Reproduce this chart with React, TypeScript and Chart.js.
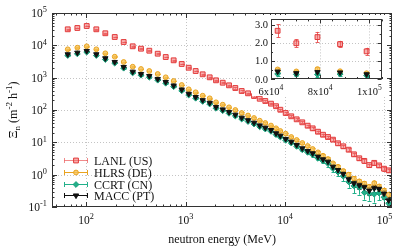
import React, { useEffect, useRef } from "react";
import { Chart, registerables } from "chart.js";
Chart.register(...registerables);

const FONT = '"Liberation Serif", "Times New Roman", serif';

// neutron energy (MeV)
const energy = [65.5, 81.8, 101.6, 126.9, 156.3, 194.3, 239, 294.5, 357, 432.5, 525.5, 632.5, 760, 916, 1077, 1265, 1488, 1750, 2026, 2366, 2737, 3167, 3670, 4250, 4880, 5570, 6340, 7230, 8125, 8975, 10160, 11560, 13100, 14920, 16900, 18970, 21460, 24100, 27040, 30340, 34100, 38550, 43650, 49330, 55800, 62700, 70300, 78900, 88100, 98900, 110200];

const lanl = [31300, 34400, 39600, 31300, 23600, 18100, 12680, 9330, 7870, 6820, 5510, 4350, 3440, 2650, 2030, 1607, 1270, 1025, 828, 698, 580, 479, 387, 328, 271, 223, 190, 157, 131, 102, 80.7, 63.8, 51.5, 41.6, 32.7, 27.1, 21.3, 17.2, 14.6, 12.1, 9.33, 7.54, 5.92, 4.26, 3.21, 2.67, 1.98, 2.32, 1.93, 1.53, 1.36];
const hlrs = [7540, 8450, 9330, 7540, 5670, 4450, 3050, 2180, 1853, 1607, 1298, 1026, 788, 593, 436, 353, 277, 230, 173, 146, 121, 100, 80.7, 67.6, 56.5, 46.7, 39.6, 33.1, 27.2, 22.4, 18.5, 14.6, 11.8, 9.53, 7.69, 6.21, 4.91, 3.85, 3.05, 2.24, 1.76, 1.3, 1.0, 0.75, 0.62, 0.53, 0.42, 0.55, 0.43, 0.32, 0.24];
const ccrt = [4850, 5450, 6150, 4850, 3650, 2800, 1960, 1400, 1190, 1030, 835, 672, 525, 394, 290, 231, 184, 153, 113, 95, 79, 65, 52.5, 44, 36.8, 30.3, 25.8, 21.9, 17.3, 14.6, 11.5, 9.5, 7.5, 5.9, 4.9, 4.1, 3.2, 2.65, 2.2, 1.55, 1.2, 0.9, 0.6, 0.45, 0.4, 0.28, 0.26, 0.25, 0.27, 0.2, 0.13];
const macc = [5280, 5920, 6680, 5280, 3970, 3050, 2138, 1528, 1298, 1125, 910, 734, 572, 430, 317, 252, 201, 167, 124, 104, 86.7, 71.5, 57.8, 48.3, 40.4, 33.3, 28.3, 24.0, 19.0, 16.0, 12.7, 10.45, 8.26, 6.53, 5.39, 4.57, 3.59, 2.98, 2.52, 1.76, 1.39, 1.05, 0.72, 0.54, 0.47, 0.41, 0.32, 0.38, 0.36, 0.26, 0.16];

// relative uncertainties
const lanlErr = [0.02, 0.02, 0.02, 0.02, 0.02, 0.02, 0.02, 0.02, 0.02, 0.02, 0.02, 0.02, 0.02, 0.02, 0.03, 0.03, 0.03, 0.03, 0.03, 0.03, 0.04, 0.04, 0.04, 0.04, 0.05, 0.05, 0.05, 0.05, 0.06, 0.06, 0.06, 0.06, 0.07, 0.07, 0.07, 0.08, 0.08, 0.08, 0.09, 0.09, 0.1, 0.1, 0.11, 0.12, 0.12, 0.135, 0.11, 0.125, 0.095, 0.13, 0.14];
const hlrsErr = [0.02, 0.02, 0.02, 0.02, 0.02, 0.02, 0.02, 0.02, 0.02, 0.02, 0.02, 0.02, 0.02, 0.02, 0.03, 0.03, 0.03, 0.03, 0.03, 0.03, 0.04, 0.04, 0.04, 0.04, 0.05, 0.05, 0.05, 0.05, 0.06, 0.06, 0.07, 0.07, 0.08, 0.08, 0.09, 0.1, 0.1, 0.11, 0.12, 0.13, 0.14, 0.15, 0.17, 0.18, 0.2, 0.2, 0.22, 0.2, 0.22, 0.25, 0.25];
const ccrtErr = [0.02, 0.02, 0.02, 0.02, 0.02, 0.02, 0.02, 0.02, 0.02, 0.02, 0.02, 0.02, 0.02, 0.02, 0.03, 0.03, 0.03, 0.03, 0.03, 0.03, 0.04, 0.04, 0.04, 0.04, 0.05, 0.05, 0.05, 0.05, 0.06, 0.06, 0.07, 0.08, 0.09, 0.1, 0.11, 0.12, 0.14, 0.16, 0.2, 0.22, 0.25, 0.3, 0.35, 0.4, 0.4, 0.4, 0.4, 0.45, 0.4, 0.45, 0.5];
const maccErr = [0.02, 0.02, 0.02, 0.02, 0.02, 0.02, 0.02, 0.02, 0.02, 0.02, 0.02, 0.02, 0.02, 0.02, 0.03, 0.03, 0.03, 0.03, 0.03, 0.03, 0.04, 0.04, 0.04, 0.04, 0.05, 0.05, 0.05, 0.05, 0.06, 0.06, 0.07, 0.07, 0.08, 0.09, 0.1, 0.11, 0.12, 0.13, 0.15, 0.17, 0.18, 0.2, 0.22, 0.25, 0.25, 0.25, 0.28, 0.25, 0.28, 0.3, 0.3];

const seriesNames = ["LANL (US)", "HLRS (DE)", "CCRT (CN)", "MACC (PT)"];
const xDecades = [2, 3, 4, 5];
const yDecades = [-1, 0, 1, 2, 3, 4, 5];
const insetXTicks = [60000, 80000, 100000];
const insetXLabels = [["6x10", "4"], ["8x10", "4"], ["1x10", "5"]];
const insetYTicks = [0, 1, 2, 3];
const insetYLabels = ["0.0", "1.0", "2.0", "3.0"];

const styles = [
  { shape: "rect", r: 3.4, rot: 0, fill: "rgba(240,110,110,0.55)", stroke: "#e23a3a", err: "rgba(232,70,70,0.85)", leg: "rgba(236,100,100,0.75)" },
  { shape: "circle", r: 2.4, rot: 0, fill: "rgba(245,192,85,0.8)", stroke: "#e9a31f", err: "#e9a31f", leg: "#e9a31f" },
  { shape: "rectRot", r: 2.9, rot: 0, fill: "#22b08a", stroke: "#1a9e7a", err: "#22b08a", leg: "#22b08a" },
  { shape: "triangle", r: 3.1, rot: 180, fill: "#111111", stroke: "#111111", err: "#111111", leg: "#111111" },
];
const values = [lanl, hlrs, ccrt, macc];
const errs = [lanlErr, hlrsErr, ccrtErr, maccErr];

function drawMarker(ctx: CanvasRenderingContext2D, s: any, x: number, y: number) {
  const r = s.r;
  ctx.beginPath();
  if (s.shape === "rect") {
    const h = r * Math.SQRT1_2;
    ctx.rect(x - h, y - h, 2 * h, 2 * h);
  } else if (s.shape === "circle") {
    ctx.arc(x, y, r, 0, Math.PI * 2);
  } else if (s.shape === "rectRot") {
    ctx.moveTo(x - r, y); ctx.lineTo(x, y - r); ctx.lineTo(x + r, y); ctx.lineTo(x, y + r); ctx.closePath();
  } else {
    ctx.moveTo(x, y + r); ctx.lineTo(x - 0.866 * r, y - 0.5 * r); ctx.lineTo(x + 0.866 * r, y - 0.5 * r); ctx.closePath();
  }
  ctx.fillStyle = s.fill; ctx.fill();
  ctx.strokeStyle = s.stroke; ctx.lineWidth = 1; ctx.stroke();
}

function drawPow(ctx: CanvasRenderingContext2D, base: string, exp: string, x: number, y: number, align: string, size: number) {
  const es = size * 0.72;
  ctx.font = `${size}px ${FONT}`;
  const bw = ctx.measureText(base).width;
  ctx.font = `${es}px ${FONT}`;
  const ew = ctx.measureText(exp).width;
  const tw = bw + ew;
  const x0 = align === "right" ? x - tw : align === "center" ? x - tw / 2 : x;
  ctx.textAlign = "left";
  ctx.textBaseline = "alphabetic";
  ctx.fillStyle = "#111";
  ctx.font = `${size}px ${FONT}`;
  ctx.fillText(base, x0, y);
  ctx.font = `${es}px ${FONT}`;
  ctx.fillText(exp, x0 + bw, y - size * 0.4);
}

function drawErrorBars(chart: any, cap: number) {
  const { ctx, chartArea: a } = chart;
  const ys = chart.scales.y;
  ctx.save();
  ctx.beginPath();
  ctx.rect(a.left, a.top, a.right - a.left, a.bottom - a.top);
  ctx.clip();
  chart.data.datasets.forEach((ds: any, i: number) => {
    const meta = chart.getDatasetMeta(i);
    ctx.strokeStyle = ds.errColor;
    ctx.lineWidth = 1;
    ds.data.forEach((p: any, j: number) => {
      const el = meta.data[j];
      if (!el) return;
      const x = Math.round(el.x) + 0.5;
      const e = ds.errs[j] * p.y;
      const y1 = ys.getPixelForValue(p.y + e);
      const y2 = ys.getPixelForValue(Math.max(p.y - e, 1e-6));
      ctx.beginPath();
      ctx.moveTo(x, y1); ctx.lineTo(x, y2);
      ctx.moveTo(x - cap, Math.round(y1) + 0.5); ctx.lineTo(x + cap, Math.round(y1) + 0.5);
      ctx.moveTo(x - cap, Math.round(y2) + 0.5); ctx.lineTo(x + cap, Math.round(y2) + 0.5);
      ctx.stroke();
    });
  });
  ctx.restore();
}

function frame(ctx: CanvasRenderingContext2D, a: any) {
  ctx.strokeStyle = "#333";
  ctx.lineWidth = 1;
  ctx.setLineDash([]);
  const l = Math.round(a.left) + 0.5, r = Math.round(a.right) - 0.5;
  const t = Math.round(a.top) + 0.5, b = Math.round(a.bottom) - 0.5;
  ctx.strokeRect(l, t, r - l, b - t);
}

function tickX(ctx: CanvasRenderingContext2D, a: any, px: number, len: number) {
  const x = Math.round(px) + 0.5;
  ctx.beginPath();
  ctx.moveTo(x, a.bottom); ctx.lineTo(x, a.bottom - len);
  ctx.moveTo(x, a.top); ctx.lineTo(x, a.top + len);
  ctx.stroke();
}
function tickY(ctx: CanvasRenderingContext2D, a: any, py: number, len: number) {
  const y = Math.round(py) + 0.5;
  ctx.beginPath();
  ctx.moveTo(a.left, y); ctx.lineTo(a.left + len, y);
  ctx.moveTo(a.right, y); ctx.lineTo(a.right - len, y);
  ctx.stroke();
}

const mainDecor = {
  id: "mainDecor",
  beforeDatasetsDraw(chart: any) {
    const { ctx, chartArea: a, scales } = chart;
    const xs = scales.x, ys = scales.y;
    ctx.save();
    ctx.strokeStyle = "#c4c4c4";
    ctx.lineWidth = 1;
    ctx.setLineDash([1, 2]);
    xDecades.forEach((d) => {
      const x = Math.round(xs.getPixelForValue(Math.pow(10, d))) + 0.5;
      ctx.beginPath(); ctx.moveTo(x, a.top); ctx.lineTo(x, a.bottom); ctx.stroke();
    });
    yDecades.forEach((d) => {
      const y = Math.round(ys.getPixelForValue(Math.pow(10, d))) + 0.5;
      if (y < a.top + 2 || y > a.bottom - 2) return;
      ctx.beginPath(); ctx.moveTo(a.left, y); ctx.lineTo(a.right, y); ctx.stroke();
    });
    ctx.restore();
    drawErrorBars(chart, 2);
  },
  afterDraw(chart: any) {
    const { ctx, chartArea: a, scales } = chart;
    const xs = scales.x, ys = scales.y;
    ctx.save();
    frame(ctx, a);
    for (let n = 1; n <= 5; n++) {
      for (let k = 1; k <= 9; k++) {
        const v = k * Math.pow(10, n);
        if (v < xs.min || v > xs.max) continue;
        tickX(ctx, a, xs.getPixelForValue(v), k === 1 ? 5 : 2.5);
      }
    }
    for (let n = -1; n <= 5; n++) {
      for (let k = 1; k <= 9; k++) {
        const v = k * Math.pow(10, n);
        if (v < ys.min * 0.999 || v > ys.max * 1.001) continue;
        tickY(ctx, a, ys.getPixelForValue(v), k === 1 ? 5 : 2.5);
      }
    }
    xDecades.forEach((d) => {
      drawPow(ctx, "10", String(d), xs.getPixelForValue(Math.pow(10, d)), a.bottom + 17, "center", 11.5);
    });
    yDecades.forEach((d) => {
      drawPow(ctx, "10", String(d), a.left - 5, ys.getPixelForValue(Math.pow(10, d)) + 4, "right", 11.5);
    });
    // x title
    ctx.font = `12px ${FONT}`;
    ctx.fillStyle = "#111";
    ctx.textAlign = "center";
    ctx.textBaseline = "alphabetic";
    ctx.fillText("neutron energy (MeV)", (a.left + a.right) / 2, 243);
    // y title
    const segs = [
      { t: "\u039E", dy: 0, s: 12.5 },
      { t: "n", dy: 3, s: 9 },
      { t: " (m", dy: 0, s: 12 },
      { t: "-2", dy: -5, s: 9 },
      { t: " h", dy: 0, s: 12 },
      { t: "-1", dy: -5, s: 9 },
      { t: ")", dy: 0, s: 12 },
    ];
    let total = 0;
    segs.forEach((sg) => { ctx.font = `${sg.s}px ${FONT}`; total += ctx.measureText(sg.t).width; });
    ctx.translate(16.5, (a.top + a.bottom) / 2);
    ctx.rotate(-Math.PI / 2);
    ctx.textAlign = "left";
    let cx = -total / 2;
    segs.forEach((sg) => {
      ctx.font = `${sg.s}px ${FONT}`;
      ctx.fillText(sg.t, cx, sg.dy);
      cx += ctx.measureText(sg.t).width;
    });
    ctx.setTransform(1, 0, 0, 1, 0, 0);
    // legend
    const rows = [160, 172, 183.5, 195];
    seriesNames.forEach((name, i) => {
      const y = Math.round(rows[i]) + 0.5;
      const s = styles[i];
      ctx.strokeStyle = s.leg;
      ctx.lineWidth = 1;
      ctx.beginPath();
      ctx.moveTo(64, y); ctx.lineTo(88, y);
      ctx.moveTo(64.5, y - 2.5); ctx.lineTo(64.5, y + 2.5);
      ctx.moveTo(87.5, y - 2.5); ctx.lineTo(87.5, y + 2.5);
      ctx.stroke();
      drawMarker(ctx, s, 76, y);
      ctx.font = `12px ${FONT}`;
      ctx.fillStyle = "#111";
      ctx.textAlign = "left";
      ctx.fillText(name, 94, y + 4);
    });
    ctx.restore();
  },
};

const insetDecor = {
  id: "insetDecor",
  beforeDraw(chart: any) {
    const { ctx, width, height } = chart;
    ctx.save();
    ctx.fillStyle = "#fff";
    ctx.fillRect(0, 0, width, height);
    ctx.restore();
  },
  beforeDatasetsDraw(chart: any) {
    const { ctx, chartArea: a, scales } = chart;
    const xs = scales.x, ys = scales.y;
    ctx.save();
    ctx.strokeStyle = "#c4c4c4";
    ctx.lineWidth = 1;
    ctx.setLineDash([1, 2]);
    insetXTicks.forEach((v) => {
      const x = Math.round(xs.getPixelForValue(v)) + 0.5;
      if (x < a.left + 2) return;
      ctx.beginPath(); ctx.moveTo(x, a.top); ctx.lineTo(x, a.bottom); ctx.stroke();
    });
    insetYTicks.forEach((v) => {
      const y = Math.round(ys.getPixelForValue(v)) + 0.5;
      if (y > a.bottom - 2) return;
      ctx.beginPath(); ctx.moveTo(a.left, y); ctx.lineTo(a.right, y); ctx.stroke();
    });
    ctx.restore();
    drawErrorBars(chart, 2);
  },
  afterDraw(chart: any) {
    const { ctx, chartArea: a, scales } = chart;
    const xs = scales.x, ys = scales.y;
    ctx.save();
    frame(ctx, a);
    for (let v = 60000; v <= 105000; v += 5000) {
      tickX(ctx, a, xs.getPixelForValue(v), v % 20000 === 0 ? 4 : 2);
    }
    for (let v = 0; v <= 3.3; v += 0.5) {
      tickY(ctx, a, ys.getPixelForValue(v), Math.abs(v - Math.round(v)) < 0.01 ? 4 : 2);
    }
    insetXTicks.forEach((v, i) => {
      drawPow(ctx, insetXLabels[i][0], insetXLabels[i][1], xs.getPixelForValue(v), a.bottom + 15.5, "center", 10.5);
    });
    ctx.font = `10.5px ${FONT}`;
    ctx.fillStyle = "#111";
    ctx.textAlign = "right";
    ctx.textBaseline = "alphabetic";
    insetYTicks.forEach((v, i) => {
      ctx.fillText(insetYLabels[i], a.left - 3, ys.getPixelForValue(v) + 3.5);
    });
    ctx.restore();
  },
};

function buildDatasets(lo: number, hi: number) {
  return seriesNames.map((name, i) => {
    const idx = energy.map((e, j) => j).filter((j) => energy[j] >= lo && energy[j] <= hi);
    const s = styles[i];
    return {
      label: name,
      data: idx.map((j) => ({ x: energy[j], y: values[i][j] })),
      errs: idx.map((j) => errs[i][j]),
      errColor: s.err,
      pointStyle: s.shape,
      pointRotation: s.rot,
      pointRadius: s.r,
      pointHoverRadius: s.r,
      backgroundColor: s.fill,
      borderColor: s.stroke,
      borderWidth: 1,
      showLine: false,
      order: 3 - i,
    } as any;
  });
}

export default function App() {
  const mainRef = useRef<HTMLCanvasElement>(null);
  const insetRef = useRef<HTMLCanvasElement>(null);
  useEffect(() => {
    const main = new Chart(mainRef.current as HTMLCanvasElement, {
      type: "scatter",
      data: { datasets: buildDatasets(0, 1e9) },
      options: {
        animation: false,
        responsive: false,
        devicePixelRatio: 1,
        events: [],
        layout: { padding: { left: 0, top: 13, right: 19, bottom: 0 } },
        plugins: { legend: { display: false }, tooltip: { enabled: false } },
        scales: {
          x: {
            type: "logarithmic", min: 45.5, max: 119000,
            ticks: { display: false }, grid: { display: false }, border: { display: false },
            afterFit: (s: any) => { s.height = 40; },
          },
          y: {
            type: "logarithmic", min: 0.1, max: 100000,
            ticks: { display: false }, grid: { display: false }, border: { display: false },
            afterFit: (s: any) => { s.width = 52; },
          },
        },
      } as any,
      plugins: [mainDecor],
    });
    const inset = new Chart(insetRef.current as HTMLCanvasElement, {
      type: "scatter",
      data: { datasets: buildDatasets(60000, 105000) },
      options: {
        animation: false,
        responsive: false,
        devicePixelRatio: 1,
        events: [],
        layout: { padding: { left: 0, top: 2, right: 2, bottom: 0 } },
        plugins: { legend: { display: false }, tooltip: { enabled: false } },
        scales: {
          x: {
            type: "linear", min: 60000, max: 105000,
            ticks: { display: false }, grid: { display: false }, border: { display: false },
            afterFit: (s: any) => { s.height = 17; },
          },
          y: {
            type: "linear", min: 0, max: 3.3,
            ticks: { display: false }, grid: { display: false }, border: { display: false },
            afterFit: (s: any) => { s.width = 19; },
          },
        },
      } as any,
      plugins: [insetDecor],
    });
    return () => { main.destroy(); inset.destroy(); };
  }, []);
  return (
    <div style={{ position: "absolute", left: 0, top: 0, width: 411, height: 247, background: "#fff" }}>
      <canvas ref={mainRef} width={411} height={247} style={{ position: "absolute", left: 0, top: 0, width: 411, height: 247 }} />
      <canvas ref={insetRef} width={134} height={81} style={{ position: "absolute", left: 252, top: 15, width: 134, height: 81 }} />
    </div>
  );
}
